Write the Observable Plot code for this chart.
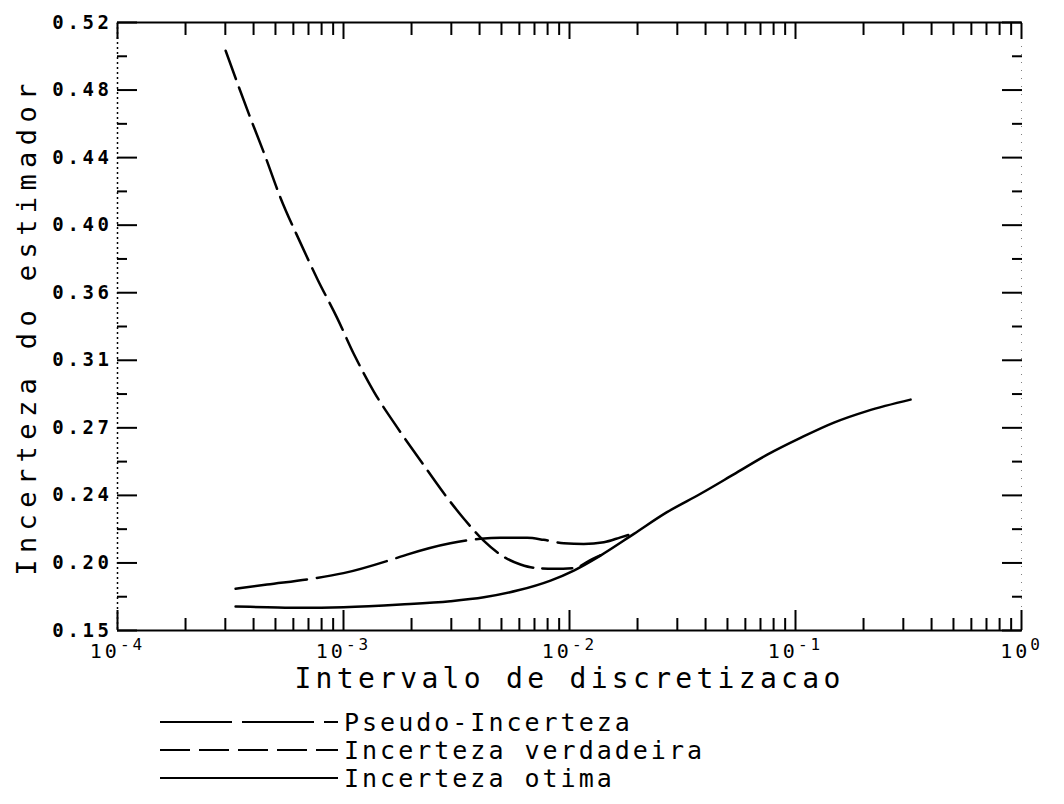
<!DOCTYPE html>
<html><head><meta charset="utf-8">
<script src="https://cdn.jsdelivr.net/npm/d3@7"></script>
<script src="https://cdn.jsdelivr.net/npm/@observablehq/plot@0.6"></script>
<style>
body{margin:0;background:#fff;}
#chart{width:1064px;height:804px;background:#fff;}
#chart svg{display:block;}
</style></head><body><div id="chart"></div>
<script>
// ---- data ----
const yTickLabels = ["0.15","0.20","0.24","0.27","0.31","0.36","0.40","0.44","0.48","0.52"];
const xTickLabels = ["10\u207B\u2074","10\u207B\u00B3","10\u207B\u00B2","10\u207B\u00B9","10\u2070"];
const xMajor = [1e-4, 1e-3, 1e-2, 1e-1, 1];
const xTitle = "Intervalo de discretizacao";
const yTitle = "Incerteza do estimador";
const seriesNames = ["Pseudo-Incerteza", "Incerteza verdadeira", "Incerteza otima"];

const pseudoX = [3.33e-4,4.59e-4,7.14e-4,1.00e-3,1.67e-3,1.91e-3,2.97e-3,4.04e-3,4.95e-3,6.50e-3,7.69e-3,9.44e-3,1.156e-2,1.419e-2,1.683e-2,1.928e-2];
const pseudoY = [0.1754,0.1780,0.1814,0.1849,0.1936,0.1962,0.2031,0.2058,0.2064,0.2064,0.2052,0.2031,0.2027,0.2037,0.2067,0.2092];

const verdX = [3.01e-4,3.88e-4,4.44e-4,5.26e-4,6.45e-4,7.65e-4,9.38e-4,1.111e-3,1.362e-3,1.728e-3,2.19e-3,2.78e-3,3.41e-3,4.18e-3,5.12e-3,6.07e-3,6.95e-3,8.53e-3,1.045e-2,1.26e-2,1.371e-2];
const verdY = [0.5028,0.4616,0.4409,0.4134,0.3859,0.3641,0.3401,0.3183,0.2954,0.2736,0.2535,0.2335,0.2180,0.2045,0.1948,0.1902,0.1882,0.1876,0.1880,0.1935,0.1958];

const otimaX = [3.33e-4,4.59e-4,6.46e-4,1.00e-3,1.79e-3,2.97e-3,4.18e-3,5.87e-3,8.24e-3,1.045e-2,1.371e-2,1.928e-2,2.70e-2,3.80e-2,5.33e-2,7.50e-2,1.052e-1,1.479e-1,2.07e-1,3.23e-1];
const otimaY = [0.1646,0.1642,0.1638,0.1642,0.1658,0.1678,0.1702,0.1743,0.1804,0.1865,0.1956,0.2088,0.2220,0.2332,0.2450,0.2570,0.2672,0.2765,0.2835,0.2905];

// ---- derived tables ----
const toRows = (xs, ys) => xs.map((x, i) => ({x, y: ys[i]}));
const pseudo = toRows(pseudoX, pseudoY);
const verd = toRows(verdX, verdY);
const otima = toRows(otimaX, otimaY);

const yMin = +yTickLabels[0], yMax = +yTickLabels[yTickLabels.length - 1];
const nY = yTickLabels.length - 1;
const yPos = yTickLabels.map((_, i) => yMin + i * (yMax - yMin) / nY);
const yMid = d3.range(nY).map(i => yMin + (i + 0.5) * (yMax - yMin) / nY);
const xMinor = d3.range(-4, 0).flatMap(e => d3.range(2, 10).map(m => m * Math.pow(10, e)));

const dashPseudo = "72,10";
const dashVerd = "30,9";
const ink = "#000";

const FS_YTICK = 19, FS_XTICK = 20, FS_XTITLE = 28, FS_YTITLE = 27;
const spacing = {[FS_YTICK]: 3.6, [FS_XTICK]: 3, [FS_XTITLE]: 4.3, [FS_YTITLE]: 6.4};

const chart = Plot.plot({
  width: 1064, height: 702,
  marginLeft: 117, marginRight: 43, marginTop: 22, marginBottom: 72,
  x: {type: "log", domain: [1e-4, 1]},
  y: {type: "linear", domain: [yMin, yMax]},
  style: {background: "#fff", color: ink, fontFamily: "'DejaVu Sans Mono', monospace", overflow: "visible"},
  marks: [
    Plot.ruleX([1e-4], {stroke: ink, strokeWidth: 1.5, strokeDasharray: "2,3"}),
    Plot.ruleX([1], {stroke: ink, strokeWidth: 1, strokeDasharray: "1,7", strokeOpacity: 0.5}),
    Plot.ruleY([yMin], {stroke: ink, strokeWidth: 2}),
    Plot.ruleY([yMax], {stroke: ink, strokeWidth: 2}),
    Plot.axisX(xMajor, {anchor: "bottom", tickSize: -20, fill: "none", strokeWidth: 2, label: null}),
    Plot.axisX(xMinor, {anchor: "bottom", tickSize: -12, fill: "none", strokeWidth: 2, label: null}),
    Plot.axisX(xMajor, {anchor: "top", tickSize: -16, fill: "none", strokeWidth: 2, label: null}),
    Plot.axisX(xMinor, {anchor: "top", tickSize: -12, fill: "none", strokeWidth: 2, label: null}),
    Plot.axisY(yPos, {anchor: "left", tickSize: -20, fill: "none", strokeWidth: 2, label: null}),
    Plot.axisY(yMid, {anchor: "left", tickSize: -10, fill: "none", strokeWidth: 2, label: null}),
    Plot.axisY(yPos, {anchor: "right", tickSize: -20, fill: "none", strokeWidth: 2, label: null}),
    Plot.axisY(yMid, {anchor: "right", tickSize: -10, fill: "none", strokeWidth: 2, label: null}),
    Plot.text(yPos, {y: d => d, text: (d, i) => yTickLabels[i], frameAnchor: "left", dx: -5, textAnchor: "end", fontSize: FS_YTICK, fontWeight: "bold"}),
    Plot.text(xMajor, {x: d => d, text: (d, i) => xTickLabels[i], frameAnchor: "bottom", dy: 27, fontSize: FS_XTICK}),
    Plot.text([xTitle], {text: d => d, frameAnchor: "bottom", dy: 57, fontSize: FS_XTITLE}),
    Plot.text([yTitle], {text: d => d, frameAnchor: "left", dx: -90, rotate: -90, textAnchor: "middle", fontSize: FS_YTITLE}),
    Plot.line(otima, {x: "x", y: "y", stroke: ink, strokeWidth: 2.5, curve: "monotone-x"}),
    Plot.line(pseudo, {x: "x", y: "y", stroke: ink, strokeWidth: 2.5, strokeDasharray: dashPseudo, curve: "monotone-x"}),
    Plot.line(verd, {x: "x", y: "y", stroke: ink, strokeWidth: 2.5, strokeDasharray: dashVerd, curve: "monotone-x"})
  ]
});

// letter spacing to imitate the plotter lettering; raised exponents on the x labels
const supMap = {"\u207B": "-", "\u2070": "0", "\u00B9": "1", "\u00B2": "2", "\u00B3": "3", "\u2074": "4"};
d3.select(chart).selectAll('g[aria-label="text"]').each(function() {
  const fs = +this.getAttribute("font-size");
  if (spacing[fs] != null) this.style.letterSpacing = spacing[fs] + "px";
  if (fs === FS_XTICK) {
    d3.select(this).selectAll("text").each(function() {
      const s = this.textContent;
      const base = s.slice(0, 2);
      const exp = Array.from(s.slice(2)).map(c => supMap[c] ?? c).join("");
      this.textContent = base;
      d3.select(this).append("tspan").attr("dy", "-0.5em").attr("font-size", 16).text(exp);
    });
  }
});

document.getElementById("chart").appendChild(chart);

// legend below the plot
const legend = d3.create("svg").attr("width", 1064).attr("height", 102)
  .style("font-family", "'DejaVu Sans Mono', monospace");
const dashes = [dashPseudo, dashVerd, null];
seriesNames.forEach((name, i) => {
  const g = legend.append("g").attr("transform", `translate(0,${20 + i * 28})`);
  g.append("line").attr("x1", 160).attr("x2", 338).attr("y1", 0).attr("y2", 0)
    .attr("stroke", ink).attr("stroke-width", 2.2)
    .attr("stroke-dasharray", dashes[i]);
  g.append("text").attr("x", 344).attr("y", 0).attr("dy", "0.35em")
    .attr("font-size", 25).style("letter-spacing", "3px").text(name);
});
document.getElementById("chart").appendChild(legend.node());
</script>
</body></html>
